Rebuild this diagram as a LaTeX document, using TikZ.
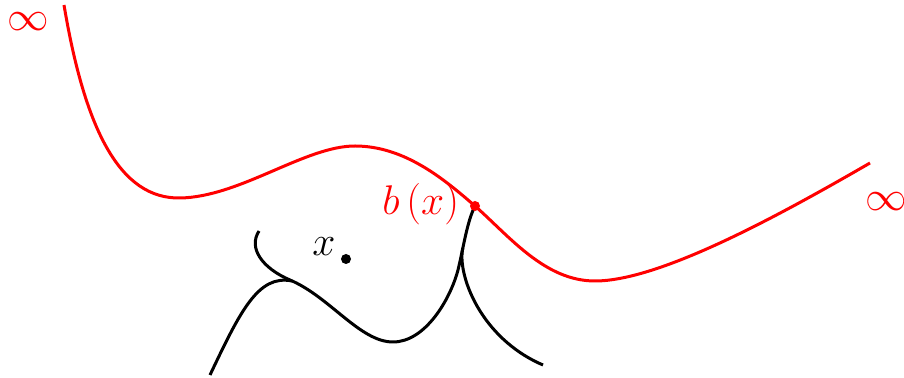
\documentclass[tikz,border=0pt]{standalone}
\usepackage{tikz}

\tikzset{
  redcurve/.style={red,line width=1.5pt},
  blackcurve/.style={black,line width=1.5pt}
}

\begin{document}
\begin{tikzpicture}[x=0.5pt,y=-0.5pt]
 \useasboundingbox (0,0) rectangle (904,378);
 % the red curve
 \draw[redcurve] (64,5) .. controls (85,130) and (120,199) .. (180,198)
   .. controls (240,197) and (305,146) .. (355,146)
   .. controls (405,146) and (445,180) .. (475,206)
   .. controls (510,237) and (545,281) .. (595,281)
   .. controls (660,281) and (780,215) .. (870,163);
 % black curves
 \draw[blackcurve] (259,231) .. controls (248,248) and (262,268) .. (290,280)
   .. controls (330,297) and (360,342) .. (393,342)
   .. controls (425,342) and (450,300) .. (458,270)
   .. controls (464,245) and (467,222) .. (475,206);
 \draw[blackcurve] (210,375) .. controls (240,312) and (258,274) .. (292,281);
 \draw[blackcurve] (462.8,248) .. controls (457,274) and (480,338) .. (543,365);
 % points and labels
 \fill[red] (475,206) circle[radius=5];
 \node[red,font=\huge,anchor=east] (bx) at (466,204) {$b\,(x)$};
 \fill (346,259) circle[radius=5];
 \node[font=\huge] (xpt) at (324,247) {$x$};
 \node[red,font=\huge,inner sep=0pt] (infl) at (28,22) {$\infty$};
 \node[red,font=\huge,inner sep=0pt] (infr) at (886,202) {$\infty$};
\end{tikzpicture}
\end{document}
